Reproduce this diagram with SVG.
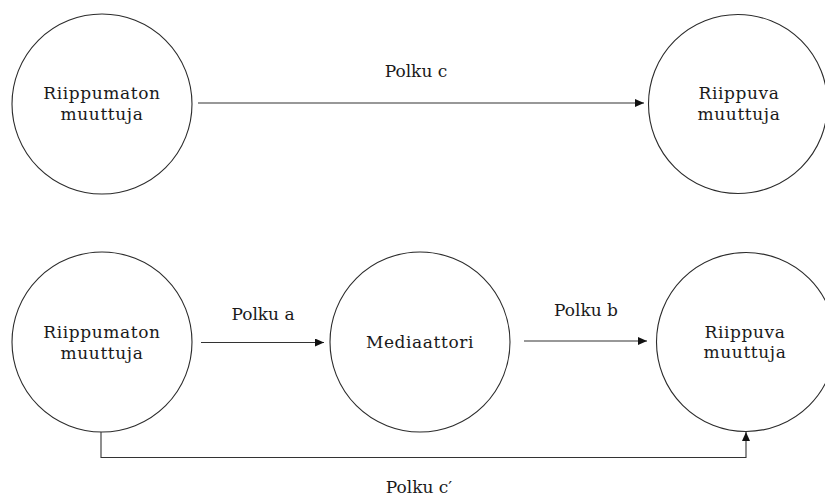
<svg xmlns="http://www.w3.org/2000/svg" width="825" height="496" viewBox="0 0 825 496">
  <style>
    .node circle { fill: #ffffff; stroke: #2b2b2b; stroke-width: 1.1; }
    .node text, .label { font-family: "DejaVu Serif", "Liberation Serif", serif; font-size: 17px; fill: #1a1a1a; text-anchor: middle; }
    .edge { fill: none; stroke: #333333; stroke-width: 1.1; marker-end: url(#arrow); }
  </style>
  <defs>
    <marker id="arrow" markerUnits="userSpaceOnUse" markerWidth="10" markerHeight="9" refX="9" refY="4" orient="auto">
      <path d="M0,0 L9,4 L0,8 z" fill="#111111"/>
    </marker>
  </defs>
  <rect width="825" height="496" fill="#ffffff"/>

  <!-- upper model: total effect -->
  <g id="iv-top" class="node">
    <circle cx="102" cy="104" r="90"/>
    <text x="102" y="99" letter-spacing="0.6">Riippumaton</text>
    <text x="102" y="119.5" letter-spacing="0.6">muuttuja</text>
  </g>
  <g id="dv-top" class="node">
    <circle cx="738" cy="104" r="89.5"/>
    <text x="739" y="99" letter-spacing="0.6">Riippuva</text>
    <text x="739" y="119.5" letter-spacing="0.6">muuttuja</text>
  </g>

  <!-- lower model: mediated effect -->
  <g id="iv-bottom" class="node">
    <circle cx="102" cy="342" r="90"/>
    <text x="102" y="338" letter-spacing="0.6">Riippumaton</text>
    <text x="102" y="358.5" letter-spacing="0.6">muuttuja</text>
  </g>
  <g id="mediator" class="node">
    <circle cx="420" cy="342" r="90"/>
    <text x="420" y="348" letter-spacing="0.6">Mediaattori</text>
  </g>
  <g id="dv-bottom" class="node">
    <circle cx="746" cy="342" r="89.5"/>
    <text x="745" y="337.5" letter-spacing="0.6">Riippuva</text>
    <text x="745" y="358" letter-spacing="0.6">muuttuja</text>
  </g>

  <g id="connectors">
    <line class="edge" x1="198" y1="103" x2="644" y2="103"/>
    <line class="edge" x1="201" y1="342.5" x2="324" y2="342.5"/>
    <line class="edge" x1="524" y1="341" x2="647" y2="341"/>
    <path class="edge" d="M101 432 V457.5 H746 V432"/>
  </g>

  <g id="labels">
    <text class="label" x="416" y="77">Polku c</text>
    <text class="label" x="263" y="320">Polku a</text>
    <text class="label" x="586" y="315.5">Polku b</text>
    <text class="label" x="419" y="493">Polku c′</text>
  </g>
</svg>
